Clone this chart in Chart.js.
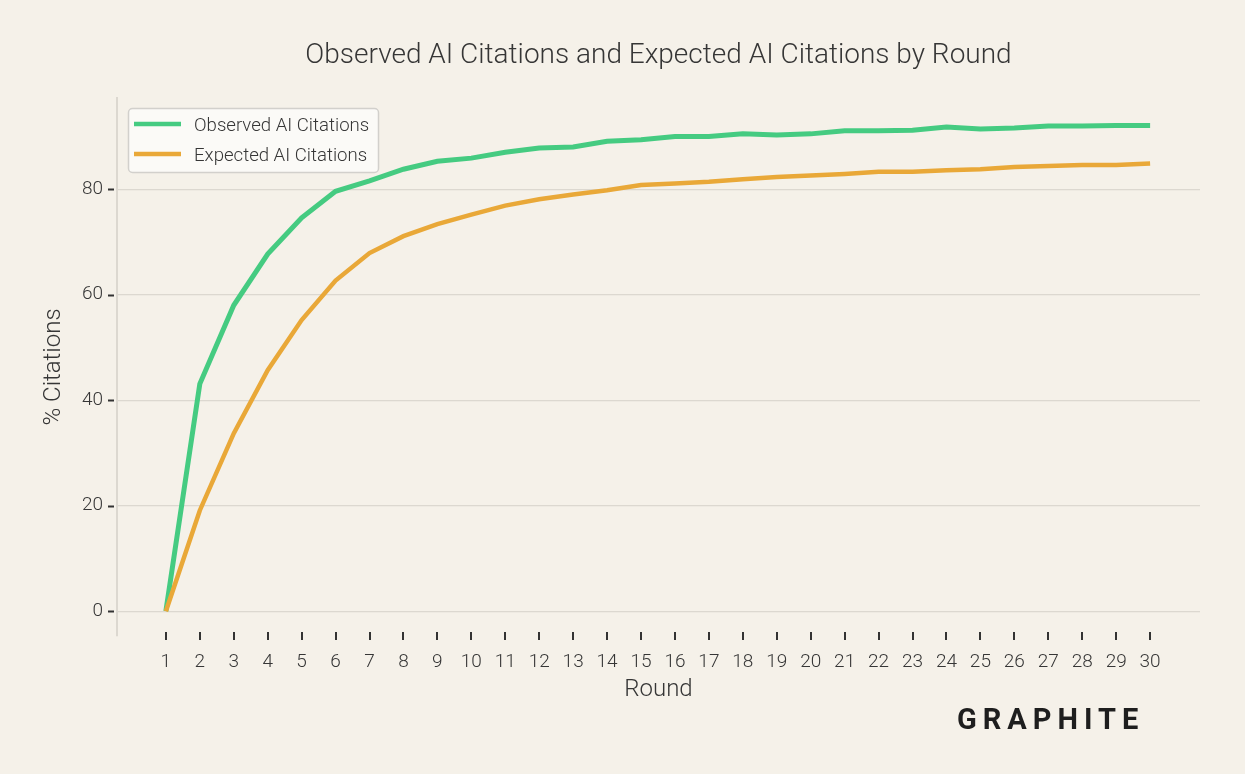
<!DOCTYPE html>
<html>
<head>
<meta charset="utf-8">
<script src="https://cdn.jsdelivr.net/npm/chart.js@4.4.1/dist/chart.umd.min.js"></script>
<style>
  html, body { margin: 0; padding: 0; background: #f5f1e9; }
  #wrap { width: 1245px; height: 774px; }
</style>
</head>
<body>
<div id="wrap"><canvas id="chart" width="1245" height="774"></canvas></div>
<script>
const rounds = [1, 2, 3, 4, 5, 6, 7, 8, 9, 10, 11, 12, 13, 14, 15, 16, 17, 18, 19, 20, 21, 22, 23, 24, 25, 26, 27, 28, 29, 30];
const observed = [0, 43.1, 58.0, 67.7, 74.6, 79.6, 81.6, 83.8, 85.3, 85.9, 87.0, 87.8, 88.0, 89.1, 89.4, 90.0, 90.0, 90.5, 90.3, 90.5, 91.1, 91.1, 91.2, 91.8, 91.4, 91.6, 92.0, 92.0, 92.1, 92.1];
const expected = [0, 19.1, 33.7, 45.7, 55.2, 62.7, 67.9, 71.1, 73.4, 75.2, 76.9, 78.1, 79.0, 79.8, 80.8, 81.1, 81.4, 81.9, 82.3, 82.6, 82.9, 83.3, 83.3, 83.6, 83.8, 84.2, 84.4, 84.6, 84.6, 84.9];
const yTicks = [0, 20, 40, 60, 80];

const GREEN = "#45cb81";
const ORANGE = "#e9a838";
const TEXT = "#363636";
const FONT = "Roboto";

const toPoints = (values) => values.map((v, i) => ({ x: rounds[i], y: v }));

// background, title, tick marks, legend box and logo
const decorations = {
  id: "decorations",
  beforeDraw(chart) {
    const { ctx } = chart;
    ctx.save();
    ctx.fillStyle = "#f5f1e9";
    ctx.fillRect(0, 0, chart.width, chart.height);
    ctx.restore();
  },
  afterDraw(chart) {
    const { ctx, chartArea, scales } = chart;
    ctx.save();

    // title centred over the plot area
    ctx.fillStyle = TEXT;
    ctx.font = `300 28px ${FONT}`;
    ctx.textAlign = "center";
    ctx.textBaseline = "middle";
    ctx.fillText("Observed AI Citations and Expected AI Citations by Round", (chartArea.left + chartArea.right) / 2, 56);

    // tick marks
    ctx.strokeStyle = "#333";
    ctx.lineWidth = 2;
    yTicks.forEach((v) => {
      const y = Math.round(scales.y.getPixelForValue(v)) + 0.5;
      ctx.beginPath();
      ctx.moveTo(108, y);
      ctx.lineTo(114, y);
      ctx.stroke();
    });
    rounds.forEach((r) => {
      const x = Math.round(scales.x.getPixelForValue(r));
      ctx.beginPath();
      ctx.moveTo(x, 632);
      ctx.lineTo(x, 640);
      ctx.stroke();
    });

    // legend
    ctx.beginPath();
    ctx.roundRect(128.5, 108.5, 250, 64, 4);
    ctx.fillStyle = "rgba(252,251,249,0.85)";
    ctx.fill();
    ctx.strokeStyle = "#d2d0cc";
    ctx.lineWidth = 1.5;
    ctx.stroke();
    chart.data.datasets.forEach((ds, i) => {
      const y = 124 + i * 30;
      ctx.strokeStyle = ds.borderColor;
      ctx.lineWidth = 4.5;
      ctx.beginPath();
      ctx.moveTo(134, y);
      ctx.lineTo(181, y);
      ctx.stroke();
      ctx.fillStyle = TEXT;
      ctx.font = `300 18.6px ${FONT}`;
      ctx.textAlign = "left";
      ctx.textBaseline = "middle";
      ctx.fillText(ds.label, 194, y + 2);
    });

    // logo
    ctx.fillStyle = "#1e1e1e";
    ctx.font = `bold 29px ${FONT}`;
    ctx.textAlign = "left";
    ctx.textBaseline = "alphabetic";
    ctx.letterSpacing = "6px";
    ctx.fillText("GRAPHITE", 957, 729);

    ctx.restore();
  },
};

new Chart("chart", {
  type: "line",
  data: {
    datasets: [
      {
        label: "Observed AI Citations",
        data: toPoints(observed),
        borderColor: GREEN,
        backgroundColor: GREEN,
        borderWidth: 5,
        order: 1,
      },
      {
        label: "Expected AI Citations",
        data: toPoints(expected),
        borderColor: ORANGE,
        backgroundColor: ORANGE,
        borderWidth: 4.5,
        order: 0,
      },
    ],
  },
  options: {
    responsive: false,
    animation: false,
    layout: { padding: { left: 0, right: 45, top: 98, bottom: 70 } },
    elements: { point: { radius: 0 }, line: { tension: 0, borderCapStyle: "butt" } },
    plugins: {
      legend: { display: false },
      tooltip: { enabled: false },
      title: { display: false },
    },
    scales: {
      x: {
        type: "linear",
        min: -0.44,
        max: 31.47,
        afterBuildTicks: (scale) => {
          scale.ticks = rounds.map((r) => ({ value: r }));
        },
        afterFit: (scale) => {
          scale.height = 68;
        },
        grid: { display: false },
        border: { display: false },
        ticks: {
          autoSkip: false,
          maxRotation: 0,
          padding: 7,
          color: TEXT,
          font: { family: FONT, size: 19, weight: 300 },
          callback: (v) => String(v),
        },
        title: {
          display: true,
          text: "Round",
          color: TEXT,
          font: { family: FONT, size: 24, weight: 300 },
          padding: { top: 0, bottom: 0 },
        },
      },
      y: {
        min: -4.7,
        max: 97.3,
        afterBuildTicks: (scale) => {
          scale.ticks = yTicks.map((v) => ({ value: v }));
        },
        afterFit: (scale) => {
          scale.width = 117;
        },
        grid: { color: "#dcd8d0", lineWidth: 1.2, drawTicks: false },
        border: { display: true, color: "#dcd8d0", width: 2 },
        ticks: {
          padding: 14,
          color: TEXT,
          font: { family: FONT, size: 19, weight: 300 },
        },
        title: {
          display: true,
          text: "% Citations",
          color: TEXT,
          font: { family: FONT, size: 24, weight: 300 },
          padding: { top: 40, bottom: 0 },
        },
      },
    },
  },
  plugins: [decorations],
});
</script>
</body>
</html>
